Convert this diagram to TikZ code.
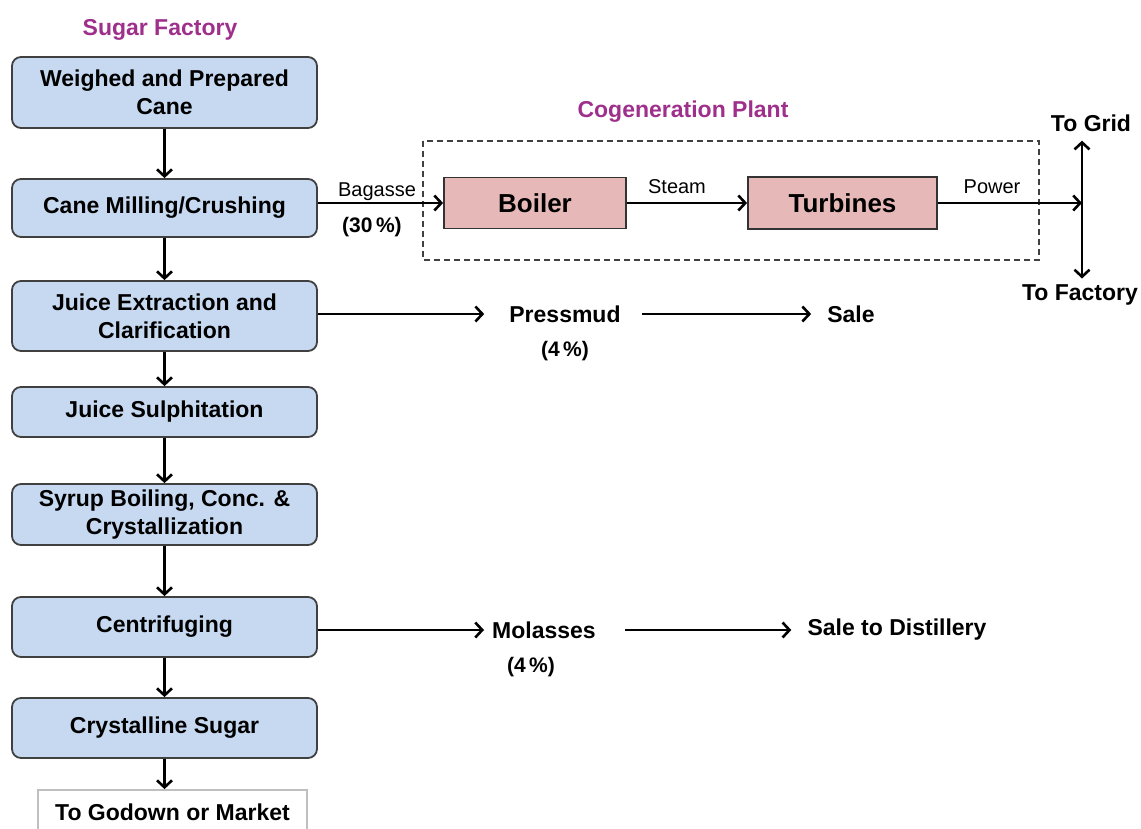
\documentclass[tikz,border=0pt]{standalone}
\usepackage{fontspec}
\setmainfont{Liberation Sans}
\usetikzlibrary{arrows.meta}
\definecolor{stepblue}{RGB}{198,217,241}
\definecolor{plantpink}{RGB}{230,185,184}
\definecolor{titlepurple}{RGB}{158,48,140}
\tikzset{
    titlestyle/.style={font=\bfseries\fontsize{23}{28}\selectfont, titlepurple},
    processbox/.style={draw=black!75, fill=stepblue, rounded corners=9pt, line width=1.8pt, minimum width=305pt, align=center, inner sep=2pt, font=\bfseries\fontsize{23}{28}\selectfont},
    plantbox/.style={draw=black!80, fill=plantpink, line width=1.8pt, font=\bfseries\fontsize{26}{30}\selectfont},
    endbox/.style={draw=black!25, fill=white, line width=1.8pt, font=\bfseries\fontsize{23}{28}\selectfont},
    outlabel/.style={inner sep=3pt, font=\bfseries\fontsize{23}{28}\selectfont},
    flowlabel/.style={inner sep=1pt, font=\fontsize{20}{24}\selectfont},
    sharelabel/.style={inner sep=1pt, font=\bfseries\fontsize{21}{24}\selectfont},
    flowarrow/.style={->, line width=2.6pt},
    plantframe/.style={dash pattern=on 6pt off 4pt, line width=1.4pt, black!75}
}
\begin{document}
\begin{tikzpicture}[x=1pt, y=-1pt, >={Straight Barb[length=7pt, width=15pt, line width=2.6pt]}]

        \useasboundingbox (0,0) rectangle (1141,828);

        % ================= SUGAR FACTORY =================
        \node[titlestyle] (factorytitle) at (160,30) {Sugar Factory};

        \node[processbox, minimum height=71pt] (cane) at (164.5,92.5) {Weighed and Prepared\\Cane};
        \node[processbox, minimum height=58pt] (milling) at (164.5,208) {Cane Milling/Crushing};
        \node[processbox, minimum height=70pt] (extraction) at (164.5,316) {Juice Extraction and\\Clarification};
        \node[processbox, minimum height=50pt] (sulph) at (164.5,412) {Juice Sulphitation};
        \node[processbox, minimum height=61pt] (syrup) at (164.5,514.5) {Syrup Boiling, Conc. \&\\Crystallization};
        \node[processbox, minimum height=60pt] (centri) at (164.5,627) {Centrifuging};
        \node[processbox, minimum height=60pt] (crystal) at (164.5,728) {Crystalline Sugar};
        \node[endbox, minimum width=269pt, minimum height=44pt] (godown) at (172.5,812) {To Godown or Market};

        % Main line
        \draw[flowarrow] (cane) -- (milling);
        \draw[flowarrow] (milling) -- (extraction);
        \draw[flowarrow] (extraction) -- (sulph);
        \draw[flowarrow] (sulph) -- (syrup);
        \draw[flowarrow] (syrup) -- (centri);
        \draw[flowarrow] (centri) -- (crystal);
        \draw[flowarrow] (crystal.south) -- (crystal.south |- godown.north);

        % ================= COGENERATION PLANT =================
        \node[titlestyle] (cogentitle) at (683,112) {Cogeneration Plant};
        \draw[plantframe] (423,141) rectangle (1039,260);

        \node[plantbox, minimum width=182pt, minimum height=51pt] (boiler) at (535,203) {Boiler};
        \node[plantbox, minimum width=189pt, minimum height=52pt] (turbines) at (842.5,203) {Turbines};

        % Bagasse
        \draw[flowarrow] (milling.east |- boiler) -- (boiler.west);
        \node[flowlabel] (bagasse) at (377,192) {Bagasse};
        \node[sharelabel] (bagasseshare) at (372,227) {(30\,\%)};

        % Steam and power
        \draw[flowarrow] (boiler) -- (turbines);
        \node[flowlabel] (steam) at (677,187) {Steam};
        \coordinate (split) at (1082,203);
        \draw[flowarrow] (turbines) -- (split);
        \node[flowlabel] (power) at (992,187) {Power};

        \node[outlabel] (togrid) at (1091,123) {To Grid};
        \node[outlabel] (tofactory) at (1080,295) {To Factory};
        \draw[flowarrow, <->] ([yshift=-6pt]togrid.south -| split) -- ([yshift=3pt]tofactory.north -| split);

        % ================= BY-PRODUCTS =================
        \node[outlabel] (pressmud) at (565,314) {Pressmud};
        \node[sharelabel] (pressmudshare) at (565,351) {(4\,\%)};
        \node[outlabel] (pressmudsale) at (851,314) {Sale};
        \draw[flowarrow, shorten >=22pt] (extraction.east |- pressmud) -- (pressmud.west);
        \draw[flowarrow, shorten <=18pt, shorten >=13pt] (pressmud) -- (pressmudsale);

        \node[outlabel] (molasses) at (544,630) {Molasses};
        \node[sharelabel] (molassesshare) at (531,667) {(4\,\%)};
        \node[outlabel] (distillery) at (897,630) {Sale to Distillery};
        \draw[flowarrow, shorten >=5pt] (centri.east |- molasses) -- (molasses.west);
        \draw[flowarrow, shorten <=26pt, shorten >=13pt] (molasses) -- (distillery);

\end{tikzpicture}
\end{document}
